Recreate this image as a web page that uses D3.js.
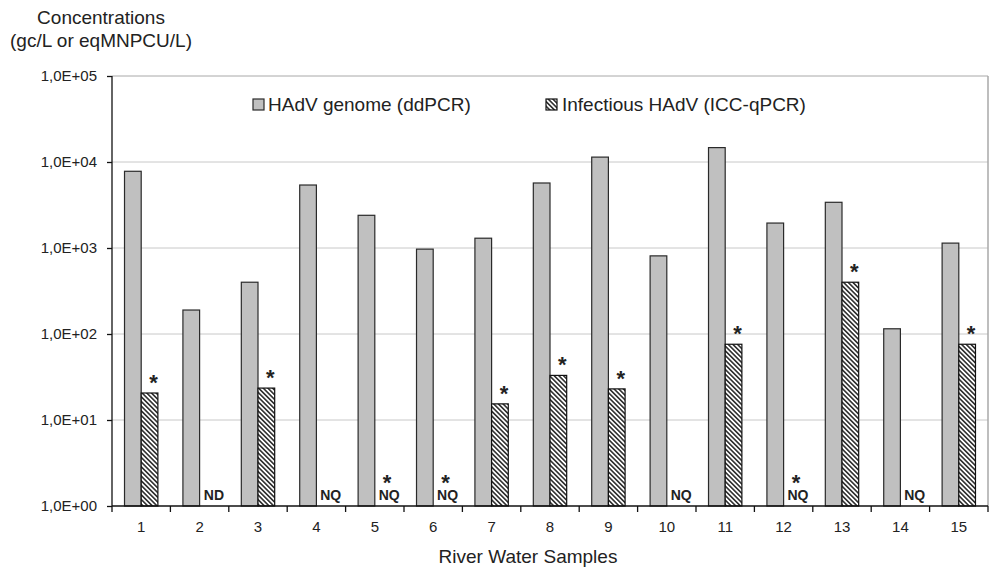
<!DOCTYPE html>
<html>
<head>
<meta charset="utf-8">
<script src="https://cdn.jsdelivr.net/npm/d3@7"></script>
<style>
  body { margin: 0; background: #fff; }
  text { font-family: "Liberation Sans", Arial, sans-serif; fill: #222; }
</style>
</head>
<body>
<div id="chart"></div>
<script>
// data
const samples = ["1","2","3","4","5","6","7","8","9","10","11","12","13","14","15"];
const genome = [7800, 190, 400, 5400, 2400, 970, 1300, 5700, 11400, 810, 14700, 1950, 3400, 115, 1140];
const infectious = [20.6, null, 23.5, null, null, null, 15.4, 33, 23, null, 76, null, 400, null, 76];
const notes = ["", "ND", "", "NQ", "NQ", "NQ", "", "", "", "NQ", "", "NQ", "", "NQ", ""];
const stars = [1, 0, 1, 0, 1, 1, 1, 1, 1, 0, 1, 1, 1, 0, 1];
const yTicks = [1, 10, 100, 1000, 10000, 100000];
const yTickLabels = ["1,0E+00", "1,0E+01", "1,0E+02", "1,0E+03", "1,0E+04", "1,0E+05"];
const seriesNames = ["HAdV genome (ddPCR)", "Infectious HAdV (ICC-qPCR)"];

const width = 991, height = 567;
const mLeft = 112, mRight = 988, mTop = 76, mBottom = 506;

const svg = d3.select("#chart").append("svg").attr("width", width).attr("height", height);

// hatch pattern
const defs = svg.append("defs");
defs.append("pattern").attr("id", "hatch")
    .attr("patternUnits", "userSpaceOnUse")
    .attr("width", 3.3).attr("height", 3.3)
    .attr("patternTransform", "rotate(-45)")
  .call(p => {
    p.append("rect").attr("width", 3.3).attr("height", 3.3).attr("fill", "#fff");
    p.append("line").attr("x1", 0.8).attr("y1", 0).attr("x2", 0.8).attr("y2", 3.3)
      .attr("stroke", "#111").attr("stroke-width", 1.4);
  });

const x = d3.scaleBand().domain(samples).range([mLeft, mRight]).paddingInner(0).paddingOuter(0);
// gap width 150% like the spreadsheet chart
const barW = x.bandwidth() / 3.5;
const y = d3.scaleLog().domain([1, 100000]).range([mBottom, mTop]);

// grid
svg.append("g").selectAll("line").data(yTicks.slice(1)).enter().append("line")
   .attr("x1", mLeft).attr("x2", mRight)
   .attr("y1", d => y(d)).attr("y2", d => y(d))
   .attr("stroke", d => d === 100000 ? "#a8a8a8" : "#c8c8c8").attr("stroke-width", 1);
svg.append("line").attr("x1", mRight).attr("x2", mRight).attr("y1", mTop).attr("y2", mBottom)
   .attr("stroke", "#a8a8a8").attr("stroke-width", 1.5);

// bars
const g = svg.append("g");
g.selectAll("rect.gen").data(genome).enter().append("rect").attr("class", "gen")
  .attr("x", (d, i) => x(samples[i]) + x.bandwidth() / 2 - barW)
  .attr("width", barW)
  .attr("y", d => y(d)).attr("height", d => mBottom - y(d))
  .attr("fill", "#c0c0c0").attr("stroke", "#2a2a2a").attr("stroke-width", 1.2);

const infRows = infectious.map((v, i) => ({ s: samples[i], v })).filter(d => d.v != null);
g.selectAll("rect.inf").data(infRows).enter().append("rect").attr("class", "inf")
  .attr("x", d => x(d.s) + x.bandwidth() / 2)
  .attr("width", barW)
  .attr("y", d => y(d.v)).attr("height", d => mBottom - y(d.v))
  .attr("fill", "url(#hatch)").attr("stroke", "#111").attr("stroke-width", 1.2);

// ND / NQ labels and asterisks
samples.forEach((s, i) => {
  const cx = x(s) + x.bandwidth() / 2 + barW / 2;
  if (notes[i]) {
    svg.append("text").attr("x", cx + 6).attr("y", mBottom - 6)
      .attr("text-anchor", "middle").attr("font-size", 14).attr("font-weight", "bold")
      .text(notes[i]);
  }
  if (stars[i]) {
    const base = infectious[i] != null ? y(infectious[i]) - 3 : mBottom - 16;
    svg.append("text").attr("x", cx + 4).attr("y", base)
      .attr("text-anchor", "middle").attr("font-size", 22).attr("font-weight", "bold")
      .text("*");
  }
});

// axes
const yAxis = d3.axisLeft(y).tickValues(yTicks).tickFormat((d, i) => yTickLabels[i])
  .tickSize(5).tickPadding(10);
svg.append("g").attr("transform", `translate(${mLeft},0)`).call(yAxis)
  .call(a => a.select(".domain").attr("stroke", "#111").attr("stroke-width", 1.3).attr("d", `M0,${mTop}V${mBottom}`))
  .call(a => a.selectAll(".tick line").attr("stroke", "#111").attr("stroke-width", 1.3))
  .call(a => a.selectAll("text").attr("font-size", 15).attr("fill", "#222"));

const xAxis = d3.axisBottom(x).tickSize(0).tickPadding(15);
const xa = svg.append("g").attr("transform", `translate(0,${mBottom})`).call(xAxis);
xa.select(".domain").attr("stroke", "#111").attr("stroke-width", 1.3).attr("d", `M${mLeft},0H${mRight}`);
xa.selectAll("text").attr("font-size", 15).attr("fill", "#222");
// boundary ticks between categories
xa.selectAll("line.bnd").data(d3.range(samples.length + 1)).enter().append("line").attr("class", "bnd")
  .attr("x1", i => mLeft + i * x.step()).attr("x2", i => mLeft + i * x.step())
  .attr("y1", 0).attr("y2", 6).attr("stroke", "#111").attr("stroke-width", 1.3);

// legend
const leg = svg.append("g");
leg.append("rect").attr("x", 253).attr("y", 99).attr("width", 11).attr("height", 11)
  .attr("fill", "#c0c0c0").attr("stroke", "#2a2a2a").attr("stroke-width", 1.2);
leg.append("text").attr("x", 268).attr("y", 111).attr("font-size", 19).text(seriesNames[0]);
leg.append("rect").attr("x", 546).attr("y", 99).attr("width", 11).attr("height", 11)
  .attr("fill", "url(#hatch)").attr("stroke", "#111").attr("stroke-width", 1.2);
leg.append("text").attr("x", 562).attr("y", 111).attr("font-size", 19).text(seriesNames[1]);

// titles
svg.append("text").attr("x", 101).attr("y", 24).attr("text-anchor", "middle").attr("font-size", 19).text("Concentrations");
svg.append("text").attr("x", 101).attr("y", 47).attr("text-anchor", "middle").attr("font-size", 19).text("(gc/L or eqMNPCU/L)");
svg.append("text").attr("x", 528).attr("y", 563).attr("text-anchor", "middle").attr("font-size", 19).text("River Water Samples");
</script>
</body>
</html>
